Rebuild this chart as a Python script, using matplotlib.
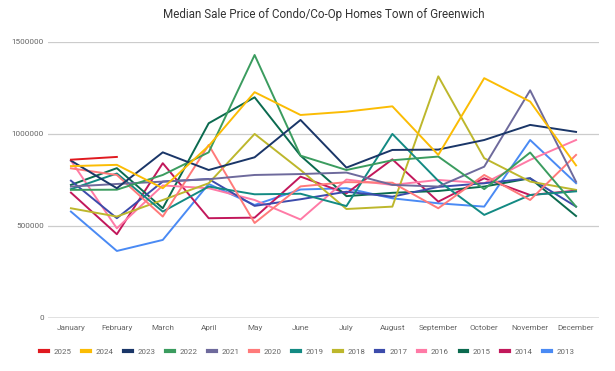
import matplotlib.pyplot as plt

plt.rcParams['font.family'] = ['Roboto', 'DejaVu Sans']

months = ['January', 'February', 'March', 'April', 'May', 'June', 'July',
          'August', 'September', 'October', 'November', 'December']
years = ['2025', '2024', '2023', '2022', '2021', '2020', '2019',
         '2018', '2017', '2016', '2015', '2014', '2013']

# valores (preco mediano, USD)
p2025 = [860000, 875000]
p2024 = [825000, 832000, 705000, 935000, 1227000, 1103000, 1121000, 1150000, 886000, 1303000, 1176000, 829000]
p2023 = [855000, 705000, 900000, 804000, 873000, 1076000, 817000, 913000, 915000, 967000, 1049000, 1011000]
p2022 = [696000, 697000, 777000, 900000, 1429000, 882000, 804000, 857000, 877000, 700000, 899000, 605000]
p2021 = [714000, 728000, 741000, 754000, 777000, 782000, 790000, 723000, 714000, 822000, 1237000, 740000]
p2020 = [813000, 777000, 551000, 940000, 516000, 715000, 738000, 735000, 596000, 777000, 641000, 886000]
p2019 = [700000, 785000, 578000, 714000, 672000, 675000, 608000, 1000000, 745000, 560000, 668000, 688000]
p2018 = [596000, 551000, 641000, 732000, 1000000, 804000, 592000, 605000, 1313000, 868000, 741000, 696000]
p2017 = [746000, 542000, 741000, 755000, 609000, 645000, 686000, 659000, 712000, 732000, 759000, 605000]
p2016 = [855000, 487000, 720000, 705000, 641000, 535000, 752000, 723000, 750000, 732000, 859000, 967000]
p2015 = [723000, 814000, 596000, 1058000, 1199000, 882000, 662000, 680000, 690000, 714000, 759000, 554000]
p2014 = [681000, 455000, 841000, 542000, 545000, 768000, 677000, 862000, 632000, 759000, 668000, 692000]
p2013 = [578000, 364000, 424000, 728000, 614000, 698000, 705000, 650000, 623000, 605000, 967000, 732000]

series = [p2025, p2024, p2023, p2022, p2021, p2020, p2019,
          p2018, p2017, p2016, p2015, p2014, p2013]
colors = ['#e0191f', '#fbbc04', '#1a3668', '#3b9c5f', '#6e6a9c', '#ff7a7a', '#138a83',
          '#bdb72c', '#3c4bab', '#ff7aa6', '#0b6a4f', '#c2185b', '#4a8af4']

fig = plt.figure(figsize=(6.15, 3.71), dpi=100)
ax = fig.add_axes([0.078, 0.143, 0.896, 0.744])

# desenha do mais antigo para o mais recente
for yr, vals, c in reversed(list(zip(years, series, colors))):
    ax.plot(range(len(vals)), vals, color=c, linewidth=1.4, label=yr)

ax.set_xlim(-0.5, 11.5)
ax.set_ylim(0, 1500000)
ax.set_yticks([0, 500000, 1000000, 1500000])
ax.set_yticklabels(['0', '500000', '1000000', '1500000'])
ax.set_xticks(range(12))
ax.set_xticklabels(months)
ax.tick_params(axis='both', length=0, labelsize=5.9, colors='#666666')
ax.tick_params(axis='x', pad=5)
ax.tick_params(axis='y', pad=3)
ax.grid(axis='y', color='#cccccc', linewidth=0.9)
ax.axhline(0, color='#444444', linewidth=0.9)
ax.set_axisbelow(True)
for s in ax.spines.values():
    s.set_visible(False)

ax.set_title('Median Sale Price of Condo/Co-Op Homes Town of Greenwich',
             fontsize=8.4, color='#333333', pad=17)

handles, labels = ax.get_legend_handles_labels()
leg = fig.legend(handles[::-1], labels[::-1], loc='center', bbox_to_anchor=(0.5, 0.053),
                 ncol=13, frameon=False, fontsize=5.7, handlelength=0.97,
                 handletextpad=0.72, columnspacing=1.34, labelcolor='#666666')
for line in leg.get_lines():
    line.set_linewidth(3)

plt.savefig('out.png', dpi=100)
